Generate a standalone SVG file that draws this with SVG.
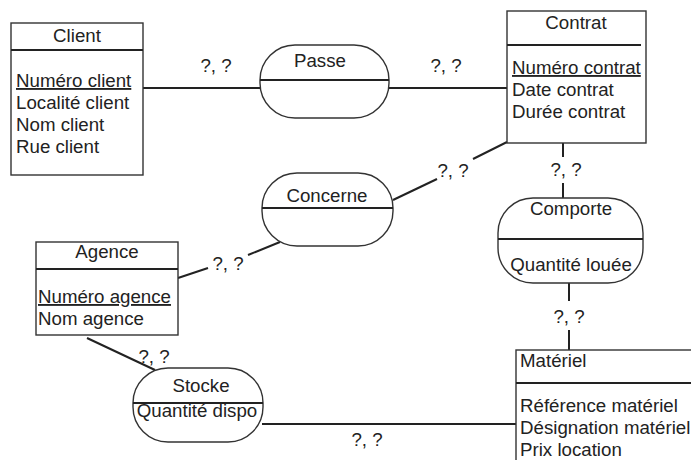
<svg xmlns="http://www.w3.org/2000/svg" width="691" height="460" viewBox="0 0 691 460">
  <style>
    .box { fill: #fff; stroke: #333; stroke-width: 1.4; }
    .sep { stroke: #222; stroke-width: 1.8; }
    .link { stroke: #222; stroke-width: 2; fill: none; }
    text { font-family: "Liberation Sans", Arial, sans-serif; font-size: 18.7px; fill: #222; }
    .c { text-anchor: middle; }
    .id { text-decoration: underline; }
  </style>
  <rect width="691" height="460" fill="#fff"/>

  <!-- connectors and cardinalities -->
  <g id="connectors">
    <line class="link" x1="143" y1="88" x2="260" y2="88"/>
    <text class="c" x="216" y="72">?, ?</text>
    <line class="link" x1="389" y1="88" x2="507" y2="88"/>
    <text class="c" x="446" y="72">?, ?</text>

    <line class="link" x1="393" y1="200" x2="437" y2="179"/>
    <line class="link" x1="473" y1="159" x2="507" y2="142"/>
    <text class="c" x="453" y="177">?, ?</text>

    <line class="link" x1="178" y1="278" x2="208" y2="268"/>
    <line class="link" x1="248" y1="255" x2="280" y2="242"/>
    <text class="c" x="228" y="270">?, ?</text>

    <line class="link" x1="563" y1="143" x2="563" y2="157"/>
    <text class="c" x="566" y="176">?, ?</text>
    <line class="link" x1="563" y1="183" x2="563" y2="198"/>

    <line class="link" x1="569" y1="283" x2="569" y2="301"/>
    <text class="c" x="569" y="323">?, ?</text>
    <line class="link" x1="569" y1="330" x2="569" y2="350"/>

    <line class="link" x1="87" y1="338" x2="155" y2="370"/>
    <text class="c" x="154" y="363">?, ?</text>

    <line class="link" x1="262" y1="424" x2="516" y2="424"/>
    <text class="c" x="367" y="446">?, ?</text>
  </g>

  <!-- entities -->
  <g id="client">
    <rect class="box" x="11" y="23" width="132" height="152"/>
    <line class="sep" x1="11" y1="50" x2="143" y2="50"/>
    <text class="c" x="77" y="42">Client</text>
    <text class="id" x="16" y="87">Numéro client</text>
    <text x="16" y="109">Localité client</text>
    <text x="16" y="131">Nom client</text>
    <text x="16" y="153">Rue client</text>
  </g>

  <g id="contrat">
    <rect class="box" x="507" y="11" width="139" height="132"/>
    <line class="sep" x1="507" y1="45" x2="641" y2="45"/>
    <text class="c" x="576" y="29">Contrat</text>
    <text class="id" x="512" y="74">Numéro contrat</text>
    <text x="512" y="96">Date contrat</text>
    <text x="512" y="118">Durée contrat</text>
  </g>

  <g id="agence">
    <rect class="box" x="36" y="242" width="142" height="93"/>
    <line class="sep" x1="36" y1="269" x2="178" y2="269"/>
    <text class="c" x="107" y="258">Agence</text>
    <text class="id" x="38" y="303">Numéro agence</text>
    <text x="38" y="325">Nom agence</text>
  </g>

  <g id="materiel">
    <rect class="box" x="516" y="350" width="190" height="130"/>
    <line class="sep" x1="516" y1="383" x2="691" y2="383"/>
    <text x="520" y="367">Matériel</text>
    <text x="520" y="412">Référence matériel</text>
    <text x="520" y="434">Désignation matériel</text>
    <text x="520" y="456">Prix location</text>
  </g>

  <!-- associations -->
  <g id="passe">
    <rect class="box" x="260" y="45" width="129" height="73" rx="35" ry="35"/>
    <line class="sep" x1="260" y1="80" x2="389" y2="80"/>
    <text class="c" x="320" y="67">Passe</text>
  </g>

  <g id="concerne">
    <rect class="box" x="262" y="173" width="131" height="73" rx="35" ry="35"/>
    <line class="sep" x1="262" y1="208" x2="393" y2="208"/>
    <text class="c" x="327" y="202">Concerne</text>
  </g>

  <g id="comporte">
    <rect class="box" x="498" y="198" width="145" height="85" rx="35" ry="35"/>
    <line class="sep" x1="498" y1="239" x2="643" y2="239"/>
    <text class="c" x="571" y="215">Comporte</text>
    <text class="c" x="571" y="271">Quantité louée</text>
  </g>

  <g id="stocke">
    <rect class="box" x="133" y="368" width="130" height="74" rx="35" ry="35"/>
    <line class="sep" x1="133" y1="403" x2="263" y2="403"/>
    <text class="c" x="201" y="392">Stocke</text>
    <text class="c" x="197" y="417">Quantité dispo</text>
  </g>
</svg>
